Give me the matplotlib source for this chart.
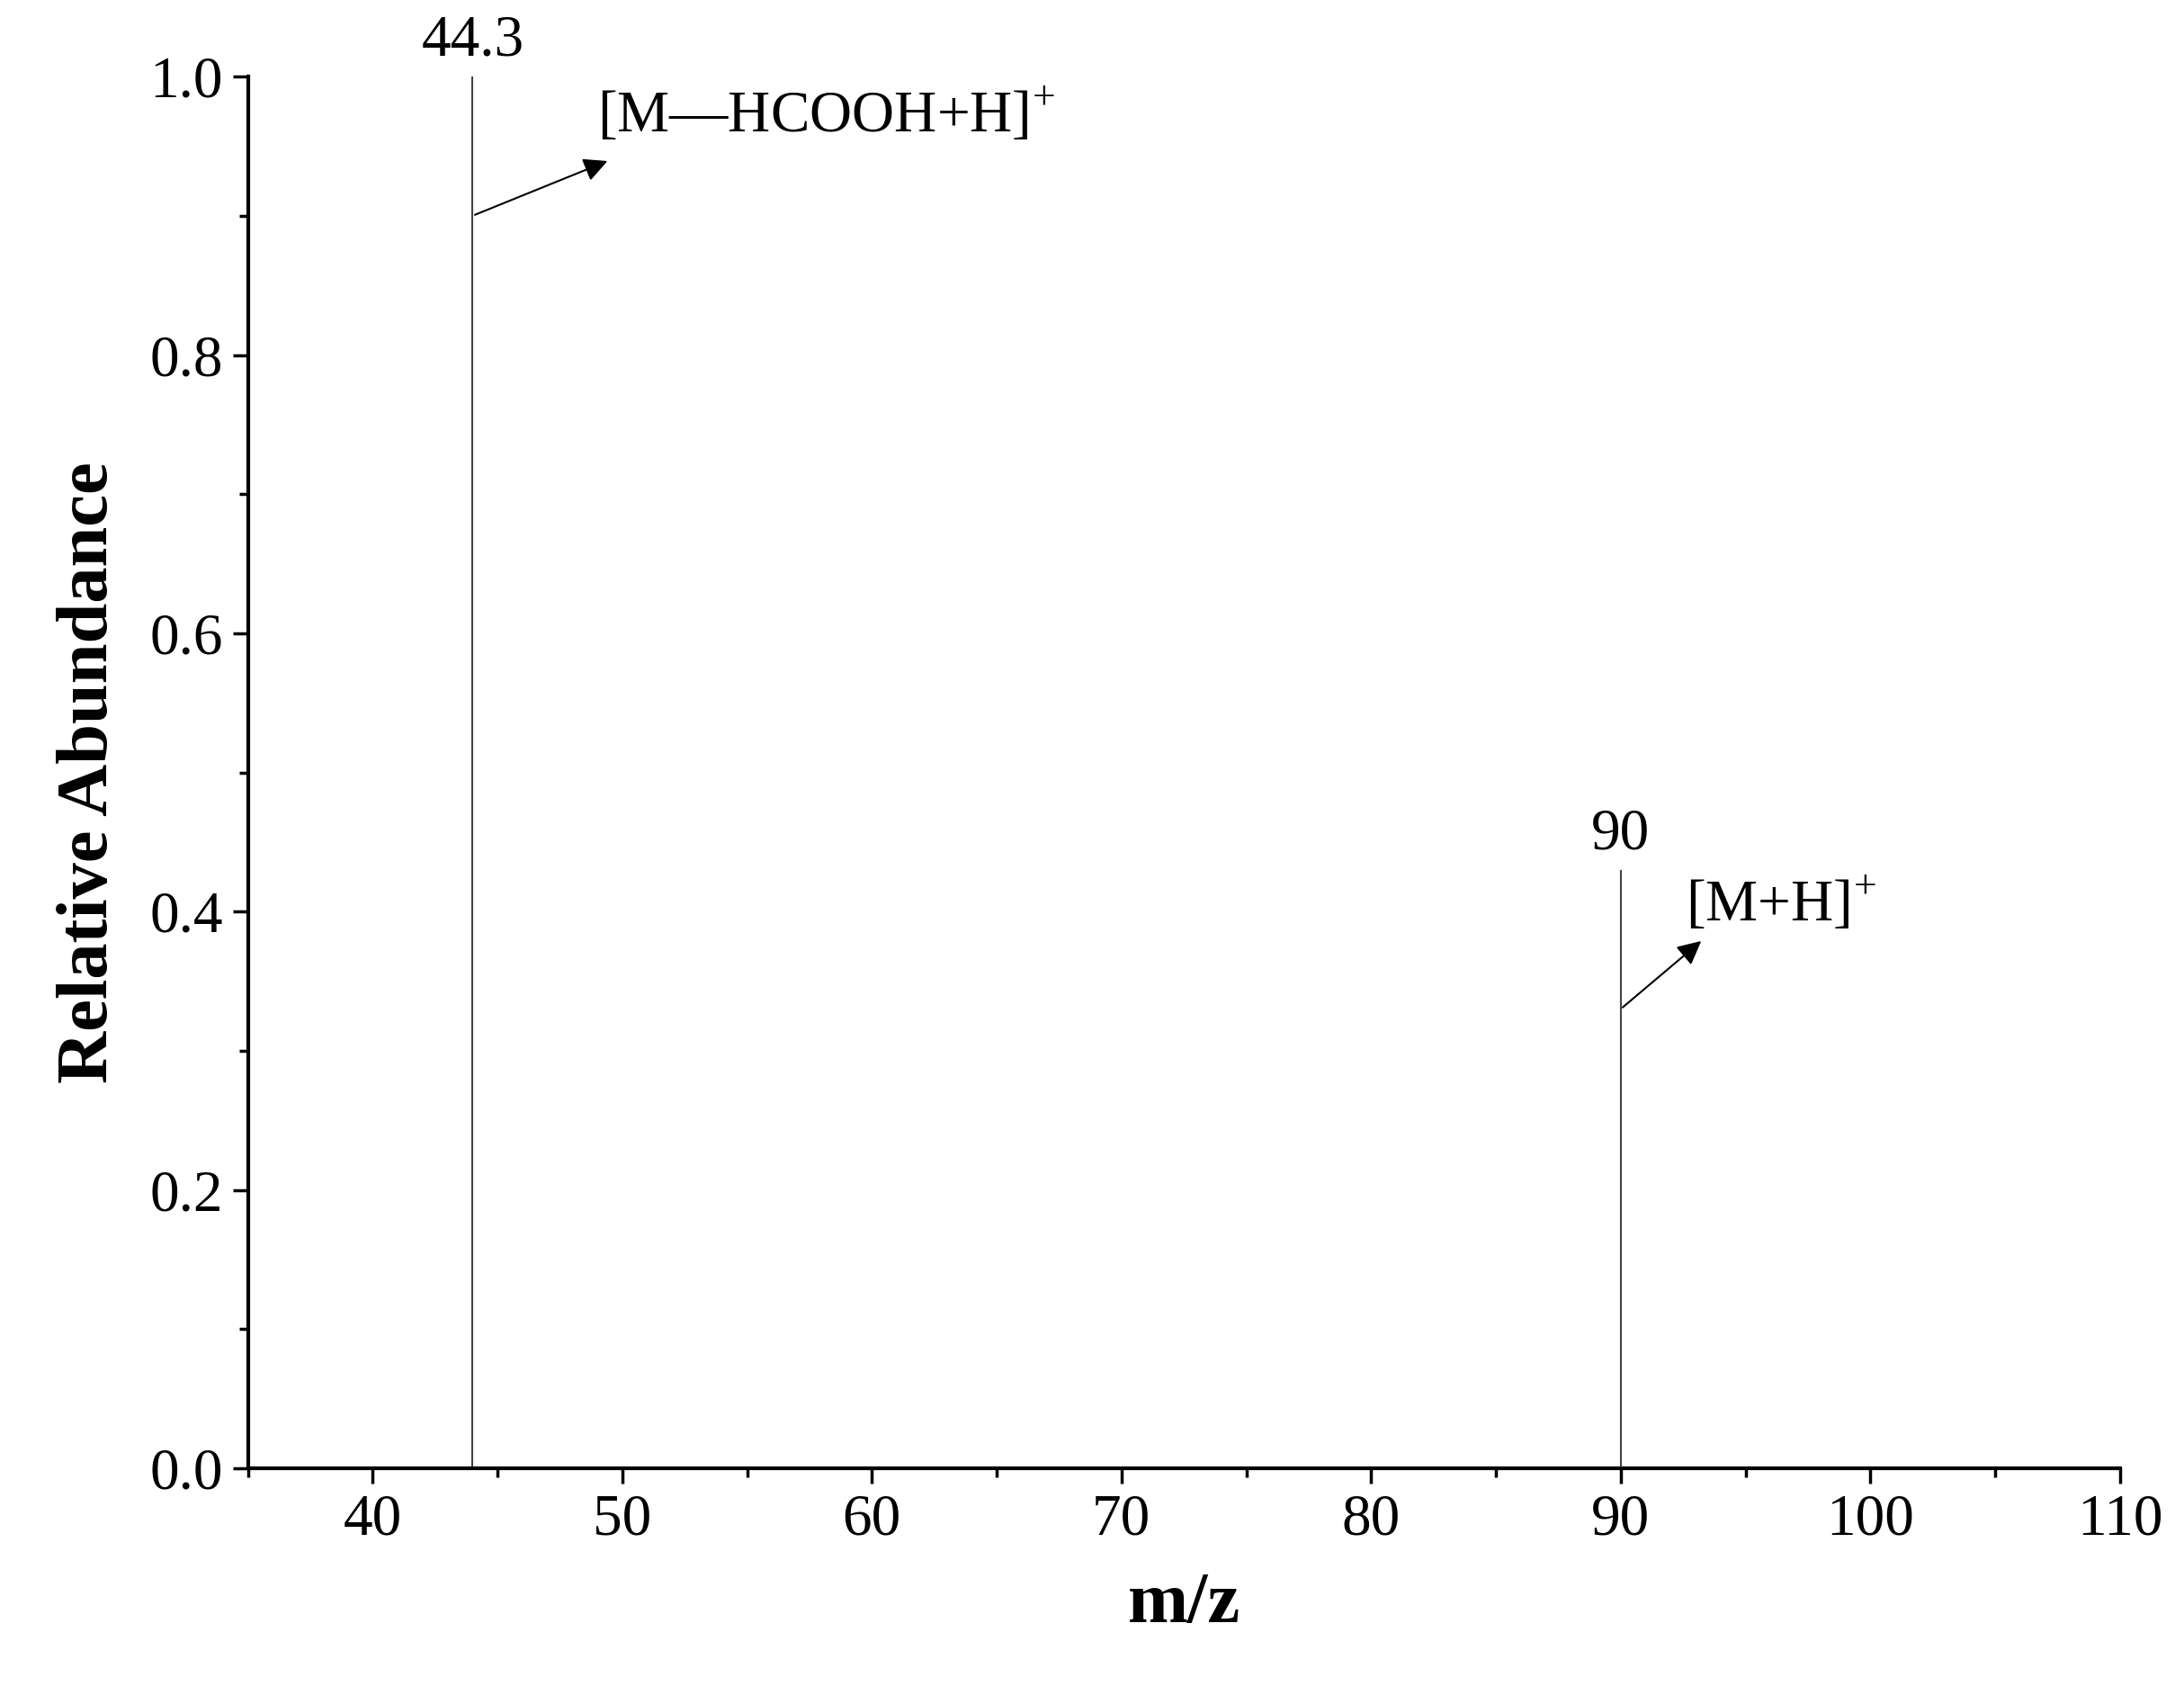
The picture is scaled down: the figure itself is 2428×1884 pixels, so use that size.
import matplotlib
matplotlib.use('Agg')
import matplotlib.pyplot as plt
from matplotlib.ticker import MultipleLocator

plt.rcParams['font.family'] = ['Liberation Serif', 'DejaVu Serif']
plt.rcParams['mathtext.fontset'] = 'custom'
plt.rcParams['mathtext.rm'] = 'Liberation Serif'

# spectrum peaks
mz = [44.0, 90.0]
abundance = [1.0, 0.43]
peak_labels = ['44.3', '90']
ion_labels = ['[M\u2014HCOOH+H]$^{+}$', '[M+H]$^{+}$']

fig = plt.figure(figsize=(24.28, 18.84), dpi=100)
ax = fig.add_axes([0.1135, 0.1338, 0.8572, 0.821])

ax.vlines(mz, 0, abundance, color='#444444', lw=1.5)
ax.set_xlim(35, 110)
ax.set_ylim(0, 1.0)

for s in ['top', 'right']:
    ax.spines[s].set_visible(False)
for s in ['left', 'bottom']:
    ax.spines[s].set_linewidth(3)

ax.xaxis.set_major_locator(MultipleLocator(10))
ax.xaxis.set_minor_locator(MultipleLocator(5))
ax.yaxis.set_major_locator(MultipleLocator(0.2))
ax.yaxis.set_minor_locator(MultipleLocator(0.1))
ax.set_xticks(range(40, 111, 10))
ax.tick_params(which='major', direction='out', length=12, width=2.5, labelsize=47, pad=8)
ax.tick_params(which='minor', direction='out', length=7, width=2.5)
ax.yaxis.set_major_formatter(plt.FuncFormatter(lambda v, p: f'{v:.1f}'))

ax.set_xlabel('m/z', fontsize=58, fontweight='bold', labelpad=20)
ax.set_ylabel('Relative Abundance', fontsize=58, fontweight='bold', labelpad=22)

# peak value labels
for x, y, t in zip(mz, abundance, peak_labels):
    ax.text(x, y + 0.006, t, ha='center', va='bottom', fontsize=47, clip_on=False)

# ion annotations with arrows
arrows = [((44.0, 0.90), (49.5, 0.94), (49.0, 0.972)),
          ((90.0, 0.33), (93.3, 0.38), (92.6, 0.405))]
for (start, end, tpos), lab in zip(arrows, ion_labels):
    ax.annotate('', xy=end, xytext=start,
                arrowprops=dict(arrowstyle='-|>', color='black', lw=1.5, mutation_scale=40))
    ax.text(tpos[0], tpos[1], lab, fontsize=47, ha='left', va='center')

fig.savefig('out.png', dpi=100, facecolor='white')
